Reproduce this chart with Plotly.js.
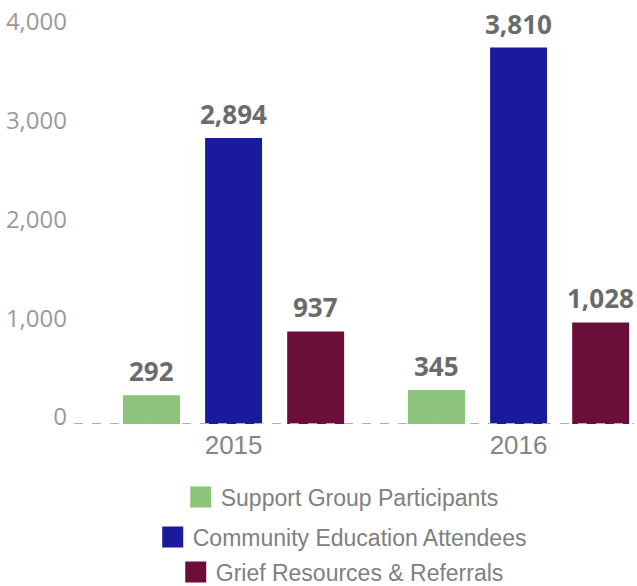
<!DOCTYPE html>
<html>
<head>
<meta charset="utf-8">
<script src="https://cdn.plot.ly/plotly-3.0.1.min.js"></script>
<style>html,body{margin:0;padding:0;background:#fff;}#chart{width:637px;height:586px;}</style>
</head>
<body>
<div id="chart"></div>
<script>
var years = ['2015', '2016'];
var seriesNames = ['Support Group Participants', 'Community Education Attendees', 'Grief Resources & Referrals'];
var supportGroup = [292, 345];
var communityEducation = [2894, 3810];
var griefResources = [937, 1028];
var yTickValues = [0, 1000, 2000, 3000, 4000];

var colors = ['#8cc47b', '#1a1a9c', '#6b0f3a'];
var values = [supportGroup, communityEducation, griefResources];
var legendIds = ['legend', 'legend2', 'legend3'];

var bargap = 0.136;
var bargroupgap = 0.306;
var slot = (1 - bargap) / values.length;

var traces = [];
var annotations = [];
values.forEach(function (vals, i) {
  traces.push({
    type: 'bar',
    x: years,
    y: vals,
    name: seriesNames[i],
    marker: {color: colors[i]},
    showlegend: false,
    hoverinfo: 'none'
  });
  var offset = (i - (values.length - 1) / 2) * slot;
  vals.forEach(function (v, j) {
    annotations.push({
      x: j + offset, y: v, xref: 'x', yref: 'y',
      text: v.toLocaleString('en-US'),
      showarrow: false, yanchor: 'bottom', yshift: 4,
      font: {family: 'Open Sans', size: 26, color: '#6b6b6b', weight: 'bold'}
    });
  });
});
values.forEach(function (vals, i) {
  traces.push({
    type: 'scatter',
    mode: 'markers',
    x: [null],
    y: [null],
    name: seriesNames[i],
    marker: {symbol: 'square', size: 16, color: colors[i], line: {color: colors[i], width: 5}},
    showlegend: true,
    legend: legendIds[i],
    hoverinfo: 'none'
  });
});

var legendFont = {family: 'Liberation Sans', size: 23, color: '#808080'};
var legendYs = [1 - 497 / 586, 1 - 537 / 586, 1 - 572 / 586];
function mkLegend(i) {
  return {x: 0.479, xanchor: 'center', y: legendYs[i], yanchor: 'middle', yref: 'container',
          bgcolor: 'rgba(0,0,0,0)', font: legendFont, orientation: 'h'};
}

var layout = {
  width: 637,
  height: 586,
  margin: {l: 74, r: 3, t: 10, b: 162},
  paper_bgcolor: '#ffffff',
  plot_bgcolor: '#ffffff',
  barmode: 'group',
  bargap: bargap,
  bargroupgap: bargroupgap,
  showlegend: true,
  legend: mkLegend(0),
  legend2: mkLegend(1),
  legend3: mkLegend(2),
  annotations: annotations,
  xaxis: {
    type: 'category',
    range: [-0.56, 1.405],
    showgrid: false,
    zeroline: false,
    showline: false,
    ticks: '',
    ticklabelstandoff: 3,
    tickfont: {family: 'Liberation Sans', size: 26, color: '#858585'},
    fixedrange: true
  },
  yaxis: {
    range: [0, 4190],
    tickvals: yTickValues,
    tickformat: ',d',
    showgrid: false,
    zeroline: false,
    showline: false,
    ticks: '',
    ticklabelstandoff: 6,
    ticklabelshift: -7,
    tickfont: {family: 'Open Sans', size: 24, color: '#9a9a9a'},
    fixedrange: true
  },
  shapes: [{
    type: 'line', xref: 'paper', yref: 'y',
    x0: 0, x1: 1, y0: 0, y1: 0,
    line: {color: '#b0b0b0', width: 2, dash: 'dash'},
    layer: 'above'
  }]
};

Plotly.newPlot('chart', traces, layout, {displayModeBar: false, staticPlot: true});
</script>
</body>
</html>
